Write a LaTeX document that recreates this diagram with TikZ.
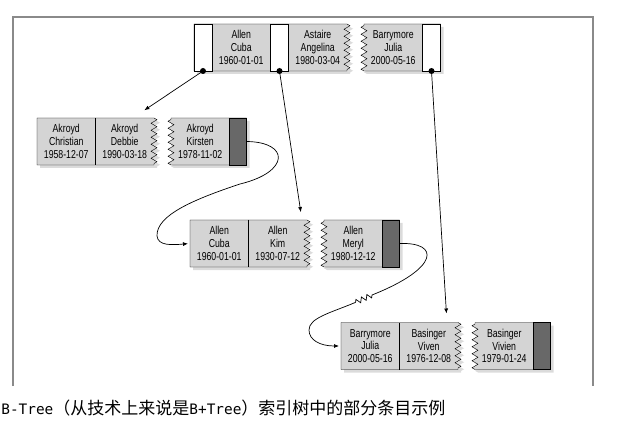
\documentclass[tikz,border=0pt]{standalone}
\usepackage{fontspec}
\usepackage{xcolor}
\usepackage{tikz}
\usetikzlibrary{arrows.meta,positioning,shadows,backgrounds,decorations.pathmorphing}
\newfontfamily\cellfont{Liberation Sans}[FakeStretch=0.76]
\newfontfamily\capcjk{Noto Sans CJK SC}
\newfontfamily\capmono{DejaVu Sans Mono}
\definecolor{keygray}{RGB}{212,212,212}
\definecolor{endgray}{RGB}{104,104,104}
\definecolor{framegray}{RGB}{138,138,138}
\tikzset{
  >={Latex[length=5pt,width=4pt]},
  key/.style={minimum width=58.5pt, minimum height=47pt, inner sep=0pt, outer sep=0pt, align=center, text=black, font=\cellfont\fontsize{11.5}{12.8}\selectfont},
  ptr/.style={draw, fill=white, minimum width=18pt, minimum height=47pt, inner sep=0pt, outer sep=0pt},
  tail/.style={draw, fill=endgray, minimum width=17pt, minimum height=47pt, inner sep=0pt, outer sep=0pt},
  dot/.style={circle, fill, inner sep=0pt, minimum size=6pt},
  piece/.style={draw, fill=keygray, drop shadow={shadow xshift=3pt, shadow yshift=-3pt, fill=black!28}},
  zz/.style={decoration={zigzag, segment length=7pt, amplitude=3pt}},
  link/.style={->, line width=0.7pt},
  frame/.style={draw=framegray, line width=1.2pt},
}
\begin{document}
\begin{tikzpicture}[x=1pt, y=-1pt, line width=0.8pt, node distance=0pt and 0pt]
  \useasboundingbox (0,0) rectangle (619,425);
  \draw[frame] (13,386) |- (593,17) -- (593,386);

  \node[ptr, anchor=west] (rp1) at (194,47.5) {};
  \node[key, right=of rp1] (rk1) {Allen\\Cuba\\1960-01-01};
  \node[ptr, right=of rk1] (rp2) {};
  \node[key, right=of rp2] (rk2) {Astaire\\Angelina\\1980-03-04};
  \node[key, right=17pt of rk2] (rk3) {Barrymore\\Julia\\2000-05-16};
  \node[ptr, right=of rk3] (rp3) {};

  \node[key, anchor=west] (a1) at (37,141.5) {Akroyd\\Christian\\1958-12-07};
  \node[key, right=of a1] (a2) {Akroyd\\Debbie\\1990-03-18};
  \node[key, right=17pt of a2] (a3) {Akroyd\\Kirsten\\1978-11-02};
  \node[tail, right=of a3] (ae) {};

  \node[key, anchor=west] (b1) at (190,243.5) {Allen\\Cuba\\1960-01-01};
  \node[key, right=of b1] (b2) {Allen\\Kim\\1930-07-12};
  \node[key, right=17pt of b2] (b3) {Allen\\Meryl\\1980-12-12};
  \node[tail, right=of b3] (be) {};

  \node[key, anchor=west] (c1) at (341,346) {Barrymore\\Julia\\2000-05-16};
  \node[key, right=of c1] (c2) {Basinger\\Viven\\1976-12-08};
  \node[key, right=17pt of c2] (c3) {Basinger\\Vivien\\1979-01-24};
  \node[tail, right=of c3] (ce) {};

  \begin{scope}[on background layer]
    \path[piece] (rp1.north west) -- (rk2.north east) decorate[zz]{-- (rk2.south east)} -- (rp1.south west) -- cycle;
    \path[piece] (rk3.north west) -- (rp3.north east) -- (rp3.south east) -- (rk3.south west) decorate[zz]{-- (rk3.north west)} -- cycle;
    \path[piece] (a1.north west) -- (a2.north east) decorate[zz]{-- (a2.south east)} -- (a1.south west) -- cycle;
    \path[piece] (a3.north west) -- (ae.north east) -- (ae.south east) -- (a3.south west) decorate[zz]{-- (a3.north west)} -- cycle;
    \path[piece] (b1.north west) -- (b2.north east) decorate[zz]{-- (b2.south east)} -- (b1.south west) -- cycle;
    \path[piece] (b3.north west) -- (be.north east) -- (be.south east) -- (b3.south west) decorate[zz]{-- (b3.north west)} -- cycle;
    \path[piece] (c1.north west) -- (c2.north east) decorate[zz]{-- (c2.south east)} -- (c1.south west) -- cycle;
    \path[piece] (c3.north west) -- (ce.north east) -- (ce.south east) -- (c3.south west) decorate[zz]{-- (c3.north west)} -- cycle;
  \end{scope}
  \draw (a1.north east) -- (a1.south east);
  \draw (b1.north east) -- (b1.south east);
  \draw (c1.north east) -- (c1.south east);

  \node[dot] (d1) at (rp1.south) {};
  \node[dot] (d2) at (rp2.south) {};
  \node[dot] (d3) at (rp3.south) {};
  \draw[link, shorten >=14pt] (d1.center) -- ([xshift=8pt]a2.north);
  \draw[link, shorten >=8pt] (d2.center) -- ([xshift=-5pt]b2.north east);
  \draw[link, shorten >=9pt] (d3.center) -- ([xshift=-11pt]c2.north east);

  \draw[link, shorten >=2pt] (ae.east) .. controls (290,142) and (290,172) .. (240,184)
    .. controls (195,199) and (156,215) .. (157,236)
    .. controls (158,246) and (172,245) .. (b1.west);

  \coordinate (brk1) at (372,295);
  \coordinate (brk2) at (354,303);
  \draw[line width=0.7pt] (be.east) .. controls (440,242) and (440,268) .. (brk1);
  \draw[line width=0.7pt, decoration={zigzag, segment length=6pt, amplitude=2.5pt}] (brk1) decorate{-- (brk2)};
  \draw[link, shorten >=2pt] (brk2) .. controls (330,313) and (309,318) .. (309,330)
    .. controls (309,340) and (320,346) .. (c1.west);

  \node[anchor=base west, inner sep=0pt] (cap) at (1,414)
    {{\capmono\fontsize{14.4}{17}\selectfont B-Tree}{\capcjk\fontsize{17}{20}\selectfont （从技术上来说是}{\capmono\fontsize{14.4}{17}\selectfont B+Tree}{\capcjk\fontsize{17}{20}\selectfont ）索引树中的部分条目示例}};
\end{tikzpicture}
\end{document}
